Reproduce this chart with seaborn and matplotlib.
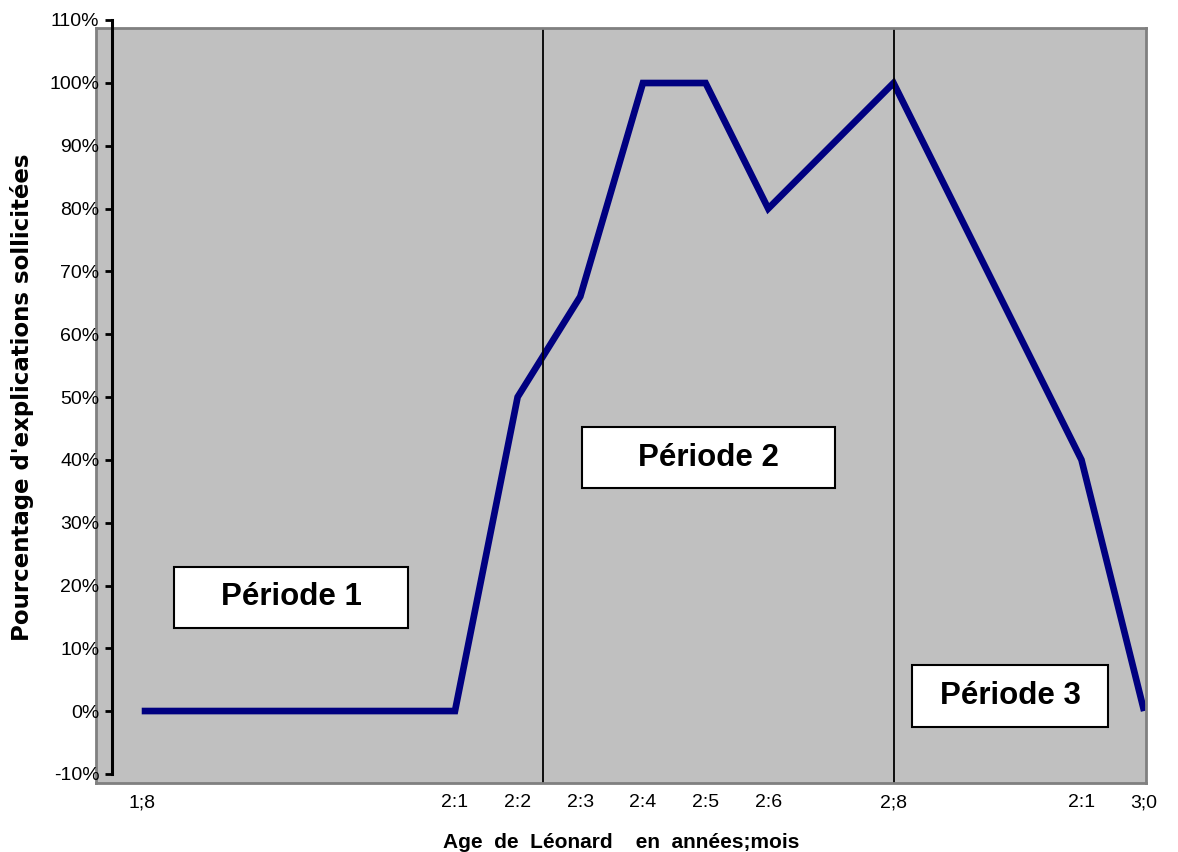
import matplotlib
matplotlib.use("Agg")
import matplotlib.pyplot as plt
import seaborn as sns
from matplotlib.patches import Rectangle

sns.set_theme(style="white")
plt.rcParams['font.family'] = ['Liberation Sans', 'DejaVu Sans']
plt.rcParams['text.color'] = 'black'

# age in months (1;8 = 20 months ... 3;0 = 36 months)
age_months = [20, 25, 26, 27, 28, 29, 30, 32, 35, 36]
pct_explications = [0, 0, 50, 66, 100, 100, 80, 100, 40, 0]
tick_labels = ['1;8', '2:1', '2:2', '2:3', '2:4', '2:5', '2:6', '2;8', '2:1', '3;0']
period_breaks = [26.4, 32]
y_ticks = list(range(-10, 111, 10))

W, H = 1178, 852
fig = plt.figure(figsize=(W / 100, H / 100), dpi=100)

# grey plot area
ax = fig.add_axes([96 / W, 1 - 783 / H, 1050 / W, 755 / H])
ax.set_facecolor('#c0c0c0')
for s in ax.spines.values():
    s.set_color('#808080')
    s.set_linewidth(2)
ax.set_xlim(19.27, 36.03)
ax.set_ylim(-11.46, 108.76)

sns.lineplot(x=age_months, y=pct_explications, ax=ax, color='#000080',
             linewidth=4.8, solid_capstyle='butt', solid_joinstyle='miter')

for xb in period_breaks:
    ax.axvline(xb, color='black', linewidth=1.3)

ax.set_xticks(age_months)
ax.set_xticklabels(tick_labels, fontsize=14)
ax.tick_params(axis='x', length=0, pad=8, colors='black')
ax.set_yticks([])
ax.set_xlabel('Age  de  Léonard    en  années;mois', fontsize=15,
              fontweight='bold', labelpad=16, color='black')

# period boxes
boxes = [('Période 1', 0.0743, 0.2053, 0.2229, 0.0808),
         ('Période 2', 0.4629, 0.3907, 0.2410, 0.0808),
         ('Période 3', 0.7771, 0.0742, 0.1867, 0.0821)]
for txt, bx, by, bw, bh in boxes:
    ax.add_patch(Rectangle((bx, by), bw, bh, transform=ax.transAxes,
                           facecolor='white', edgecolor='black',
                           linewidth=1.5, zorder=5))
    ax.text(bx + bw / 2, by + bh / 2, txt, transform=ax.transAxes,
            ha='center', va='center', fontsize=22.5, fontweight='bold',
            color='black', zorder=6)

# separate y axis (Excel style, from -10% to 110%)
yax = fig.add_axes([112 / W, 1 - 774 / H, 0.001, 754 / H])
yax.patch.set_visible(False)
for k in ['top', 'right', 'bottom']:
    yax.spines[k].set_visible(False)
yax.spines['left'].set_linewidth(2.2)
yax.spines['left'].set_color('black')
yax.set_ylim(-10, 110)
yax.set_yticks(y_ticks)
yax.set_yticklabels([f'{v}%' for v in y_ticks], fontsize=14)
yax.set_xticks([])
yax.tick_params(axis='y', direction='out', length=5, width=2, pad=4,
                colors='black', left=True)

fig.text(22 / W, 1 - 397 / H, "Pourcentage d'explications sollicitées",
         rotation=90, ha='center', va='center', fontsize=16.5,
         fontweight='bold', family='DejaVu Sans', color='black')

fig.savefig('out.png', dpi=100)
